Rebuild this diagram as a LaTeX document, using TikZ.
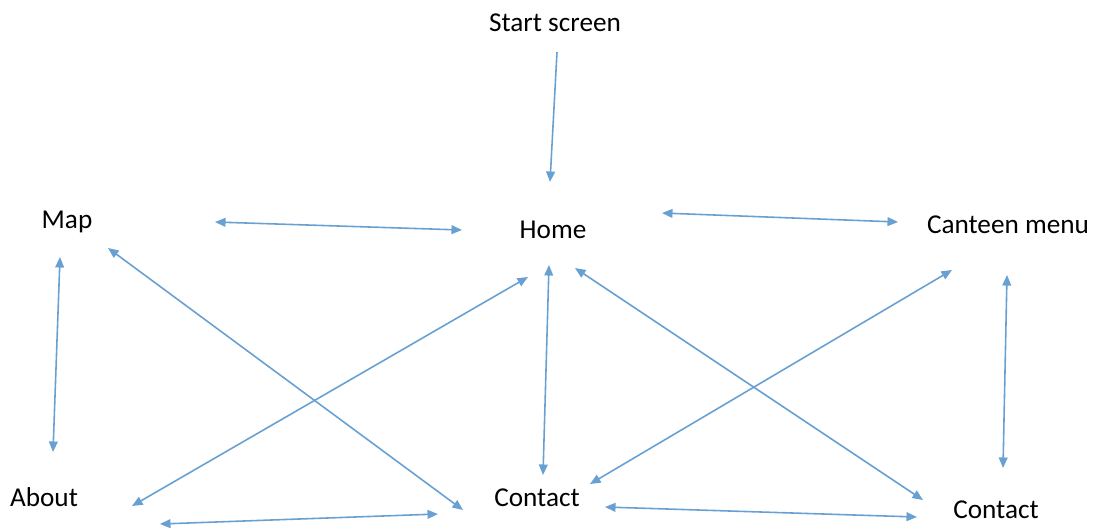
\documentclass[tikz,border=0pt]{standalone}
\usepackage{fontspec}
\setmainfont{Carlito}
\usetikzlibrary{arrows.meta}
\definecolor{linkblue}{RGB}{104,160,210}

\begin{document}
\begin{tikzpicture}[x=0.02cm,y=-0.02cm,
  screen/.style={font=\fontsize{15.5}{18}\selectfont,inner sep=0pt},
  link/.style={draw=linkblue,line width=0.9pt,{Triangle[length=6pt,width=5pt]}-{Triangle[length=6pt,width=5pt]}},
  onelink/.style={draw=linkblue,line width=0.9pt,-{Triangle[length=6pt,width=5pt]}}]
\useasboundingbox (0,0) rectangle (1096,529);
% screens
\node[screen] (start)    at (555,23)  {Start screen};
\node[screen] (home)     at (553,230) {Home};
\node[screen] (map)      at (67,222)  {Map};
\node[screen] (canteen)  at (1008,225) {Canteen menu};
\node[screen] (about)    at (44,497)  {About};
\node[screen] (contact)  at (537,498) {Contact};
\node[screen] (rcontact) at (996,510) {Contact};
% links
\draw[onelink] ([shift={(2,29)}]start.center) -- ([shift={(-3,-48)}]home.center);
\draw[link] ([shift={(148,0)}]map.center) -- ([shift={(-91,0)}]home.center);
\draw[link] ([shift={(109,-17)}]home.center) -- ([shift={(-110,-3)}]canteen.center);
\draw[link] ([shift={(-7,35)}]map.center) -- ([shift={(9,-45)}]about.center);
\draw[link] ([shift={(41,26)}]map.center) -- ([shift={(-74,12)}]contact.center);
\draw[link] ([shift={(88,9)}]about.center) -- ([shift={(-25,47)}]home.center);
\draw[link] ([shift={(-4,35)}]home.center) -- ([shift={(6,-23)}]contact.center);
\draw[link] ([shift={(22,38)}]home.center) -- ([shift={(-73,-10)}]rcontact.center);
\draw[link] ([shift={(-56,45)}]canteen.center) -- ([shift={(53,-14)}]contact.center);
\draw[link] ([shift={(-1,50)}]canteen.center) -- ([shift={(7,-42)}]rcontact.center);
\draw[link] ([shift={(116,27)}]about.center) -- ([shift={(-99,16)}]contact.center);
\draw[link] ([shift={(68,9)}]contact.center) -- ([shift={(-79,7)}]rcontact.center);
\end{tikzpicture}
\end{document}
